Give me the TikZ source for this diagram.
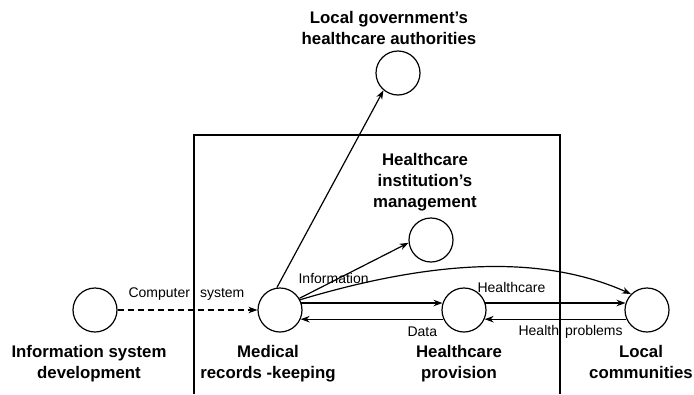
\documentclass[tikz,border=0pt]{standalone}
\usepackage{fontspec}
\setmainfont{Liberation Sans}
\usetikzlibrary{arrows.meta}
\begin{document}
\begin{tikzpicture}[x=1pt, y=-1pt, line width=1.2pt, >={Stealth[length=9pt,width=6.5pt]},
  every node/.style={inner sep=0pt},
  unit/.style={circle, draw, minimum size=44pt},
  title/.style={align=center, anchor=north, font=\fontsize{16.8}{21}\selectfont\bfseries},
  flow/.style={anchor=base west, font=\fontsize{14}{16}\selectfont}]
\useasboundingbox (0,0) rectangle (694,394);
% the institution
\draw (194,394) |- (560,135) -- (560,394);
\node[unit] (isd) at (95, 310) {};
\node[unit] (med) at (280, 310) {};
\node[unit] (hp) at (464, 310) {};
\node[unit] (lc) at (647, 310) {};
\node[unit] (auth) at (398, 73) {};
\node[unit] (mgmt) at (431, 240) {};
\node[title] (authtxt) at (389, 11) {Local government’s\\healthcare authorities};
\node[title] (mgmttxt) at (425, 153) {Healthcare\\institution’s\\management};
\node[title] (isdtxt) at (89, 345) {Information system\\development};
\node[title] (medtxt) at (268, 345) {Medical\\records -keeping};
\node[title] (hptxt) at (459, 345) {Healthcare\\provision};
\node[title] (lctxt) at (641, 345) {Local\\communities};
% flows
\draw[->, dash pattern=on 6pt off 4pt] (isd) -- (med);
\draw[->] (med.98) -- (auth.230);
\draw[->] (med.31) -- (mgmt.187);
\draw[->] (med.27) .. controls +(140,-42) and +(-85,-38) .. (lc.135);
\foreach \a/\b in {med.18/hp.162, hp.-156/med.-24, hp.18/lc.162, lc.-156/hp.-24}
  \draw[->] (\a) -- (\b);
\node[flow] (comp) at (128, 297) {Computer\hspace{10pt}system};
\node[flow] (info) at (298, 283) {Information};
\node[flow] (care) at (477, 292) {Healthcare};
\node[flow] (data) at (407, 336) {Data};
\node[flow] (prob) at (518, 335) {Health\hspace{6pt}problems};
\end{tikzpicture}
\end{document}
